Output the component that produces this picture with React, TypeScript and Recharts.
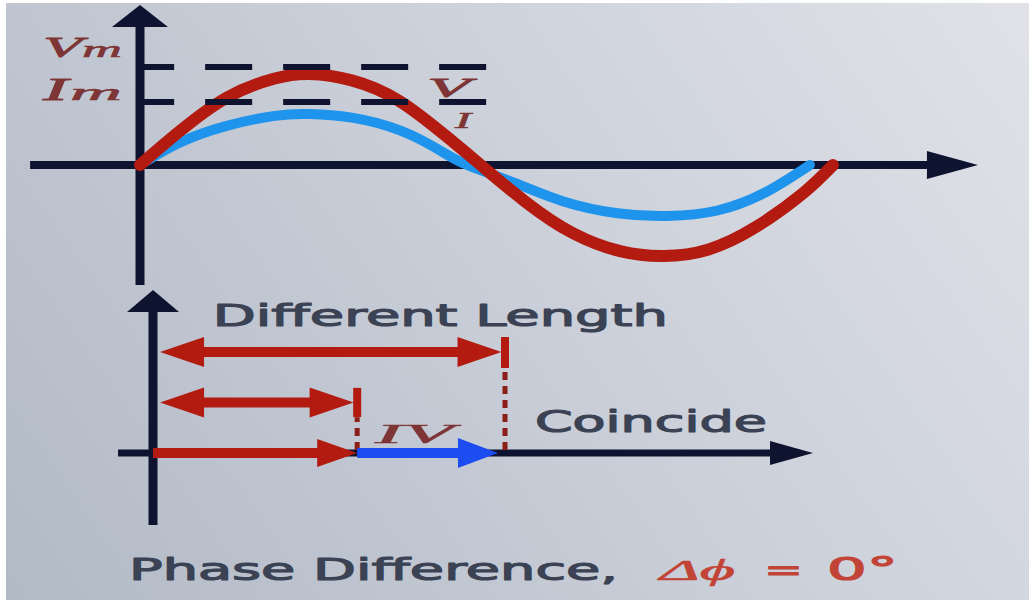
import { ComposedChart, Line, XAxis, YAxis, ReferenceLine, ReferenceDot } from 'recharts';

// Voltage wave: phase (deg) and value as a fraction of Vm
const vPhase = [0, 20, 45, 70, 88, 110, 135, 160, 177, 200, 225, 250, 272, 295, 320, 345, 360];
const vValue = [0, 0.36, 0.74, 0.95, 1, 0.93, 0.7, 0.3, 0, -0.4, -0.75, -0.95, -1, -0.93, -0.68, -0.3, 0];

// Current wave, same units
const iPhase = [0, 20, 45, 70, 88, 110, 135, 155, 170, 195, 220, 248, 274, 300, 325, 348];
const iValue = [0, 0.24, 0.43, 0.54, 0.56, 0.52, 0.38, 0.17, 0, -0.2, -0.4, -0.53, -0.56, -0.5, -0.3, 0];

// Peak guides on the vertical axis
const peakSymbols = ['V', 'I'];
const peakLevels = [1.077, 0.692];

// Phasor magnitudes (I, V)
const phasorNames = ['I', 'V'];
const phasorLengths = [0.58, 1];

const AXIS = '#0e1330';
const RED = '#b31b10';
const BLUE = '#1f94ec';
const PHASOR_BLUE = '#1d4df2';
const INK = '#3a4254';
const MATH = '#7d3535';
const TITLE_RED = '#c24436';
const SANS = '"DejaVu Sans", Verdana, sans-serif';
const SERIF = '"Liberation Serif", "DejaVu Serif", serif';

// one row per phase, each series only has values at its own samples
const phases = Array.from(new Set([...vPhase, ...iPhase])).sort((a, b) => a - b);
const waveRows = phases.map((phase) => {
  const vi = vPhase.indexOf(phase);
  const ii = iPhase.indexOf(phase);
  return {
    phase,
    v: vi >= 0 ? vValue[vi] : null,
    i: ii >= 0 ? iValue[ii] : null,
  };
});

const phasorRows = phasorNames.map((name, k) => ({ name, mag: phasorLengths[k], row: 0 }));

type Head = { len: number; half: number };

// straight line with optional triangular heads, used for axes and phasors
function arrow(color: string, width: number, end?: Head, start?: Head, dash?: string, dashOffset?: number) {
  return (p: any) => {
    const { x1, y1, x2, y2 } = p;
    const dx = x2 - x1;
    const dy = y2 - y1;
    const L = Math.hypot(dx, dy) || 1;
    const ux = dx / L;
    const uy = dy / L;
    const nx = -uy;
    const ny = ux;
    const tri = (tx: number, ty: number, dir: number, h: Head) => {
      const bx = tx - dir * ux * h.len;
      const by = ty - dir * uy * h.len;
      return `${tx},${ty} ${bx + nx * h.half},${by + ny * h.half} ${bx - nx * h.half},${by - ny * h.half}`;
    };
    const s0 = start ? start.len * 0.7 : 0;
    const e0 = end ? end.len * 0.7 : 0;
    return (
      <g>
        <line
          x1={x1 + ux * s0}
          y1={y1 + uy * s0}
          x2={x2 - ux * e0}
          y2={y2 - uy * e0}
          stroke={color}
          strokeWidth={width}
          strokeDasharray={dash}
          strokeDashoffset={dashOffset}
        />
        {end && <polygon points={tri(x2, y2, 1, end)} fill={color} />}
        {start && <polygon points={tri(x1, y1, -1, start)} fill={color} />}
      </g>
    );
  };
}

type NoteStyle = {
  size: number;
  width: number;
  color: string;
  family: string;
  italic?: boolean;
  weight?: number;
};

function note(key: string, x: number, y: number, text: string, s: NoteStyle) {
  return (
    <ReferenceDot
      key={key}
      x={x}
      y={y}
      r={0}
      ifOverflow="visible"
      shape={(p: any) => (
        <text
          x={p.cx}
          y={p.cy}
          fontSize={s.size}
          fontFamily={s.family}
          fontStyle={s.italic ? 'italic' : 'normal'}
          fill={s.color}
          stroke={s.color}
          strokeWidth={s.weight ?? 0}
          strokeLinejoin="round"
          textLength={s.width}
          lengthAdjust="spacingAndGlyphs"
        >
          {text}
        </text>
      )}
    />
  );
}

function WaveChart() {
  return (
    <ComposedChart width={1033} height={300} data={waveRows} margin={{ top: 0, right: 0, bottom: 0, left: 0 }}>
      <XAxis type="number" dataKey="phase" domain={[-72.73, 463.9]} hide allowDataOverflow />
      <YAxis type="number" domain={[-1.4835, 1.8132]} hide allowDataOverflow />

      <ReferenceLine
        segment={[{ x: -57.1, y: 0 }, { x: 435.3, y: 0 }]}
        ifOverflow="visible"
        shape={arrow(AXIS, 8, { len: 51, half: 14 })}
      />
      <ReferenceLine
        segment={[{ x: 0, y: -1.319 }, { x: 0, y: 1.758 }]}
        ifOverflow="visible"
        shape={arrow(AXIS, 9, { len: 22, half: 28 })}
      />

      {note('i-lbl', 163.6, 0.407, phasorNames[0], { size: 24, width: 16, color: MATH, family: SERIF, italic: true, weight: 0.6 })}

      <Line
        dataKey="i"
        type="natural"
        stroke={BLUE}
        strokeWidth={10}
        strokeLinecap="round"
        dot={false}
        activeDot={false}
        connectNulls
        isAnimationActive={false}
      />
      <Line
        dataKey="v"
        type="natural"
        stroke={RED}
        strokeWidth={12}
        strokeLinecap="round"
        dot={false}
        activeDot={false}
        connectNulls
        isAnimationActive={false}
      />

      {peakLevels.map((lvl, k) => (
        <ReferenceLine
          key={`peak-${k}`}
          segment={[{ x: -2, y: lvl }, { x: 181.8, y: lvl }]}
          ifOverflow="visible"
          shape={arrow(AXIS, 6, undefined, undefined, '47 31', 9)}
        />
      ))}

      {note('vm-v', -50.4, 1.187, peakSymbols[0], { size: 30, width: 39, color: MATH, family: SERIF, italic: true, weight: 0.8 })}
      {note('vm-m', -30.1, 1.187, 'm', { size: 24, width: 40, color: MATH, family: SERIF, italic: true, weight: 0.6 })}
      {note('im-i', -50.4, 0.714, peakSymbols[1], { size: 31, width: 25, color: MATH, family: SERIF, italic: true, weight: 0.8 })}
      {note('im-m', -36.4, 0.714, 'm', { size: 24, width: 52, color: MATH, family: SERIF, italic: true, weight: 0.6 })}
      {note('v-lbl', 149.1, 0.747, phasorNames[1], { size: 28, width: 43, color: MATH, family: SERIF, italic: true, weight: 0.8 })}
    </ComposedChart>
  );
}

function PhasorChart() {
  const [im, vm] = phasorLengths;
  const head = { len: 44, half: 15 };
  const dotted = '#8c1d18';
  return (
    <ComposedChart width={1033} height={323} data={phasorRows} margin={{ top: 0, right: 0, bottom: 0, left: 0 }}>
      <XAxis type="number" dataKey="mag" domain={[-0.4347, 2.5]} hide allowDataOverflow />
      <YAxis type="number" dataKey="row" domain={[-2.97, 3.426]} hide allowDataOverflow />

      <ReferenceLine
        segment={[{ x: 0, y: -1.426 }, { x: 0, y: 3.228 }]}
        ifOverflow="visible"
        shape={arrow(AXIS, 9, { len: 22, half: 26 })}
      />
      <ReferenceLine
        segment={[{ x: -0.0994, y: 0 }, { x: 1.875, y: 0 }]}
        ifOverflow="visible"
        shape={arrow(AXIS, 7, { len: 43, half: 12 })}
      />

      {/* projections down to the axis */}
      <ReferenceLine
        segment={[{ x: vm, y: 0.06 }, { x: vm, y: 1.683 }]}
        ifOverflow="visible"
        shape={arrow(dotted, 5, undefined, undefined, '8 6')}
      />
      <ReferenceLine
        segment={[{ x: im, y: 0.06 }, { x: im, y: 0.71 }]}
        ifOverflow="visible"
        shape={arrow(dotted, 5, undefined, undefined, '8 6')}
      />

      {/* magnitudes */}
      <ReferenceLine
        segment={[{ x: 0.02, y: 2 }, { x: vm - 0.01, y: 2 }]}
        ifOverflow="visible"
        shape={arrow(RED, 10, head, head)}
      />
      <ReferenceLine
        segment={[{ x: vm, y: 1.683 }, { x: vm, y: 2.297 }]}
        ifOverflow="visible"
        shape={arrow(RED, 8)}
      />
      <ReferenceLine
        segment={[{ x: 0.02, y: 1 }, { x: im - 0.01, y: 1 }]}
        ifOverflow="visible"
        shape={arrow(RED, 10, head, head)}
      />
      <ReferenceLine
        segment={[{ x: im, y: 0.71 }, { x: im, y: 1.29 }]}
        ifOverflow="visible"
        shape={arrow(RED, 8)}
      />

      {/* the two phasors along the same direction */}
      <ReferenceLine
        segment={[{ x: 0, y: 0 }, { x: im, y: 0 }]}
        ifOverflow="visible"
        shape={arrow(RED, 10, { len: 40, half: 14 })}
      />
      <ReferenceLine
        segment={[{ x: im, y: 0 }, { x: vm - 0.02, y: 0 }]}
        ifOverflow="visible"
        shape={arrow(PHASOR_BLUE, 10, { len: 40, half: 15 })}
      />

      {note('diff', 0.17, 2.515, 'Different Length', { size: 31, width: 455, color: INK, family: SANS, weight: 1.2 })}
      {note('coin', 1.085, 0.416, 'Coincide', { size: 31, width: 232, color: INK, family: SANS, weight: 1.2 })}
      {note('iv', 0.631, 0.198, phasorNames.join(''), { size: 28, width: 78, color: MATH, family: SERIF, italic: true, weight: 0.6 })}
      {note('title', -0.068, -2.515, 'Phase Difference,', { size: 31, width: 489, color: INK, family: SANS, weight: 1.2 })}
      {note('dphi', 1.44, -2.515, 'Δϕ', { size: 30, width: 75, color: TITLE_RED, family: SERIF, italic: true, weight: 0.6 })}
      {note('eq', 1.736, -2.515, '=', { size: 30, width: 39, color: TITLE_RED, family: SANS, weight: 1 })}
      {note('zero', 1.915, -2.515, '0°', { size: 32, width: 71, color: TITLE_RED, family: SANS, weight: 1.2 })}
    </ComposedChart>
  );
}

export default function App() {
  return (
    <div style={{ position: 'fixed', left: 0, top: 0, width: 1033, height: 603, background: '#ffffff', overflow: 'hidden' }}>
      <div
        style={{
          position: 'absolute',
          left: 6,
          top: 3,
          right: 4,
          bottom: 3,
          background: 'linear-gradient(55deg, #b2bac6 0%, #c9ced8 50%, #e0e2e8 100%)',
        }}
      />
      <div style={{ position: 'absolute', left: 0, top: 0 }}>
        <WaveChart />
      </div>
      <div style={{ position: 'absolute', left: 0, top: 280 }}>
        <PhasorChart />
      </div>
    </div>
  );
}
